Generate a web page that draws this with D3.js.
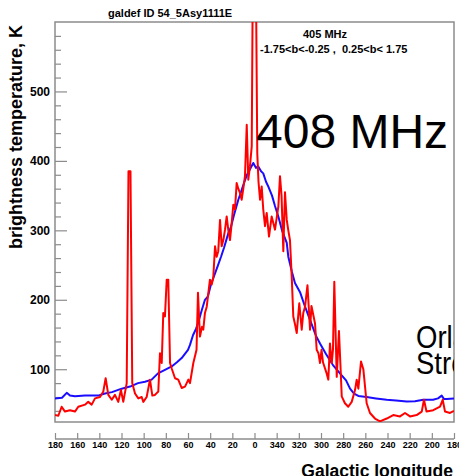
<!DOCTYPE html>
<html>
<head>
<meta charset="utf-8">
<script src="https://cdn.jsdelivr.net/npm/d3@7/dist/d3.min.js"></script>
<style>
  html, body { margin: 0; padding: 0; background: #fff; }
  svg { display: block; font-family: "Liberation Sans", Arial, Helvetica, sans-serif; }
</style>
</head>
<body>
<svg id="chart" width="459" height="476"></svg>
<script>
// Galactic longitude (negative = 360 + value), unwrapped from 180 down to -180
const modelLon = [180.0,173.7,169.4,166.5,162.0,152.9,141.2,134.9,128.6,119.8,112.3,105.1,98.8,92.8,87.1,80.8,74.7,70.0,65.7,60.0,58.2,55.5,52.8,51.0,47.6,44.7,42.0,39.3,35.6,32.9,30.2,27.5,23.6,21.2,18.5,14.6,12.2,9.5,6.8,4.1,1.1,-1.3,-3.4,-5.9,-7.9,-10.4,-12.5,-15.8,-18.5,-21.5,-24.8,-29.1,-30.5,-33.8,-36.5,-41.1,-45.6,-50.1,-55.5,-59.1,-64.5,-70.8,-77.1,-82.6,-86.2,-89.8,-93.7,-101.2,-109.6,-119.3,-127.7,-137.3,-144.8,-152.3,-161.1,-165.6,-168.9,-171.0,-173.4,-180.0];
const modelT   = [58,59,66,62,61,62,62,65,67,72,75,80,82,85,94,99,104,110,116,128,135,149,158,166,185,200,205,222,238,250,262,275,296,305,322,344,355,368,380,388,397,390,392,385,382,370,363,350,335,320,300,282,262,240,224,211,190,171,148,137,122,106,94,84,72,65,61.5,60,58,56,55,53.5,54,56,56,58,62,57,57,58];

const dataLon = [180.0,177.0,174.0,171.0,166.5,162.0,159.0,152.9,150.0,146.9,143.9,139.4,136.4,134.3,131.9,128.8,125.9,122.9,120.5,118.4,115.3,113.7,111.9,110.3,107.8,104.8,101.8,100.3,97.3,94.3,92.2,89.8,86.8,85.3,83.7,82.3,80.8,79.2,77.8,76.2,74.7,71.7,68.8,65.7,62.7,59.7,58.2,55.2,52.3,51.0,49.2,47.4,46.2,44.7,43.1,40.2,38.6,37.2,35.6,34.1,32.7,31.1,29.6,28.1,26.6,25.1,23.6,22.1,20.6,19.1,17.6,16.1,14.6,13.1,11.6,10.1,8.6,7.0,5.6,4.1,2.5,1.4,-1.1,-2.5,-3.6,-5.0,-6.5,-7.9,-9.5,-11.0,-13.1,-15.5,-18.5,-21.5,-23.0,-24.4,-26.0,-27.5,-29.1,-30.5,-32.0,-33.6,-35.0,-36.5,-38.1,-40.4,-42.6,-44.0,-45.6,-47.8,-50.1,-51.4,-54.6,-56.1,-57.7,-59.1,-60.5,-61.8,-65.1,-66.6,-68.1,-69.7,-70.8,-72.0,-74.2,-76.2,-77.6,-78.7,-81.6,-84.6,-87.7,-90.7,-92.2,-93.7,-96.1,-98.2,-101.2,-104.2,-108.7,-113.2,-119.3,-125.2,-131.3,-135.8,-140.3,-146.3,-150.9,-152.9,-155.2,-161.3,-167.4,-169.8,-171.9,-176.4,-180.0];
const dataT   = [34,33,46,39,41,39,46,49,53,49,58,60,68,87,63,56,63,53,70,53,80,385,385,80,65,58,60,53,60,85,62,63,68,123,109,181,176,229,229,109,101,87,85,73,75,85,80,109,128,210,147,161,157,181,190,229,222,232,277,262,270,315,277,286,301,320,300,286,310,337,330,368,360,354,344,360,378,452,373,392,421,700,700,411,370,344,363,330,306,325,291,320,301,334,378,350,270,355,315,300,286,233,176,165,152,195,157,181,190,221,157,191,166,128,123,109,128,110,94,85,137,109,128,226,89,155,104,61,51,46,53,70,85,72,111,100,51,37,29,25,29,34,32,37,32,34,39,56,39,41,46,56,39,37,40];

const xTicks = [180,160,140,120,100,80,60,40,20,0,-20,-40,-60,-80,-100,-120,-140,-160,-180];
const yMajor = [100,200,300,400,500];
const yMinor = [40,60,80,120,140,160,180,220,240,260,280,320,340,360,380,420,440,460,480,520,540,560,580];

const svg = d3.select("#chart");
const L = 55, R = 454, T = 22, B = 422;
const x = d3.scaleLinear().domain([180, -180]).range([L, R]);
const y = d3.scaleLinear().domain([24, 600]).range([B, T]);
const gray = "#8c8c8c";

svg.append("defs").append("clipPath").attr("id", "plotclip")
  .append("rect").attr("x", L).attr("y", T).attr("width", R - L).attr("height", B - T);

// frame
svg.append("rect").attr("x", L).attr("y", T).attr("width", R - L).attr("height", B - T)
  .attr("fill", "none").attr("stroke", gray).attr("stroke-width", 1.5);

// y axis
const yMaj = svg.append("g").attr("transform", `translate(${L},0)`)
  .call(d3.axisLeft(y).tickValues(yMajor).tickSize(-12).tickPadding(5).tickFormat(d3.format("d")));
const yMin = svg.append("g").attr("transform", `translate(${L},0)`)
  .call(d3.axisLeft(y).tickValues(yMinor).tickSize(-6).tickFormat(""));
[yMaj, yMin].forEach(g => {
  g.select(".domain").remove();
  g.selectAll("line").attr("stroke", gray).attr("stroke-width", 1.2);
});
yMaj.selectAll("text").attr("font-size", 12).attr("font-weight", "bold").attr("fill", "#000")
  .attr("font-family", "Liberation Sans, Arial, sans-serif");

// x axis (separate, below plot)
const xAx = svg.append("g").attr("transform", "translate(0,439)")
  .call(d3.axisBottom(x).tickValues(xTicks).tickSize(-6).tickPadding(3)
    .tickFormat(d => String(d < 0 ? d + 360 : d)));
xAx.select(".domain").attr("stroke", gray).attr("stroke-width", 1.5).attr("d", `M${L},0H${R}`);
xAx.selectAll("line").attr("stroke", gray).attr("stroke-width", 1.2);
xAx.selectAll("text").attr("font-size", 9).attr("font-weight", "bold").attr("fill", "#000")
  .attr("font-family", "Liberation Sans, Arial, sans-serif");

// curves
const plot = svg.append("g").attr("clip-path", "url(#plotclip)");
const line = d3.line().x(d => x(d[0])).y(d => y(d[1]));
plot.append("path").datum(modelLon.map((l, i) => [l, modelT[i]]))
  .attr("d", line).attr("fill", "none").attr("stroke", "#1a0dff").attr("stroke-width", 2)
  .attr("stroke-linejoin", "round");
plot.append("path").datum(dataLon.map((l, i) => [l, dataT[i]]))
  .attr("d", line).attr("fill", "none").attr("stroke", "#ff0000").attr("stroke-width", 2)
  .attr("stroke-linejoin", "round");

// texts
svg.append("text").attr("x", 108).attr("y", 17).attr("font-size", 11).attr("font-weight", "bold")
  .text("galdef ID 54_5Asy1111E");
svg.append("text").attr("x", 325).attr("y", 38).attr("font-size", 11).attr("font-weight", "bold")
  .attr("text-anchor", "middle").text("405 MHz");
svg.append("text").attr("x", 260).attr("y", 53).attr("font-size", 11).attr("font-weight", "bold")
  .style("white-space", "pre").text("-1.75<b<-0.25 ,  0.25<b< 1.75");
svg.append("text").attr("x", 256).attr("y", 148).attr("font-size", 48)
  .text("408 MHz");
const lab = svg.append("g").attr("clip-path", "url(#plotclip)");
lab.append("text").attr("transform", "translate(416,348) scale(0.86,1)").attr("font-size", 32).text("Orlando");
lab.append("text").attr("transform", "translate(416,374) scale(0.86,1)").attr("font-size", 32).text("Strong");

svg.append("text").attr("transform", "translate(22,25) rotate(-90)").attr("text-anchor", "end")
  .attr("font-size", 18).attr("font-weight", "bold").text("brightness temperature, K");
svg.append("text").attr("x", 453).attr("y", 477).attr("text-anchor", "end")
  .attr("font-size", 17.5).attr("font-weight", "bold").text("Galactic longitude");
</script>
</body>
</html>
